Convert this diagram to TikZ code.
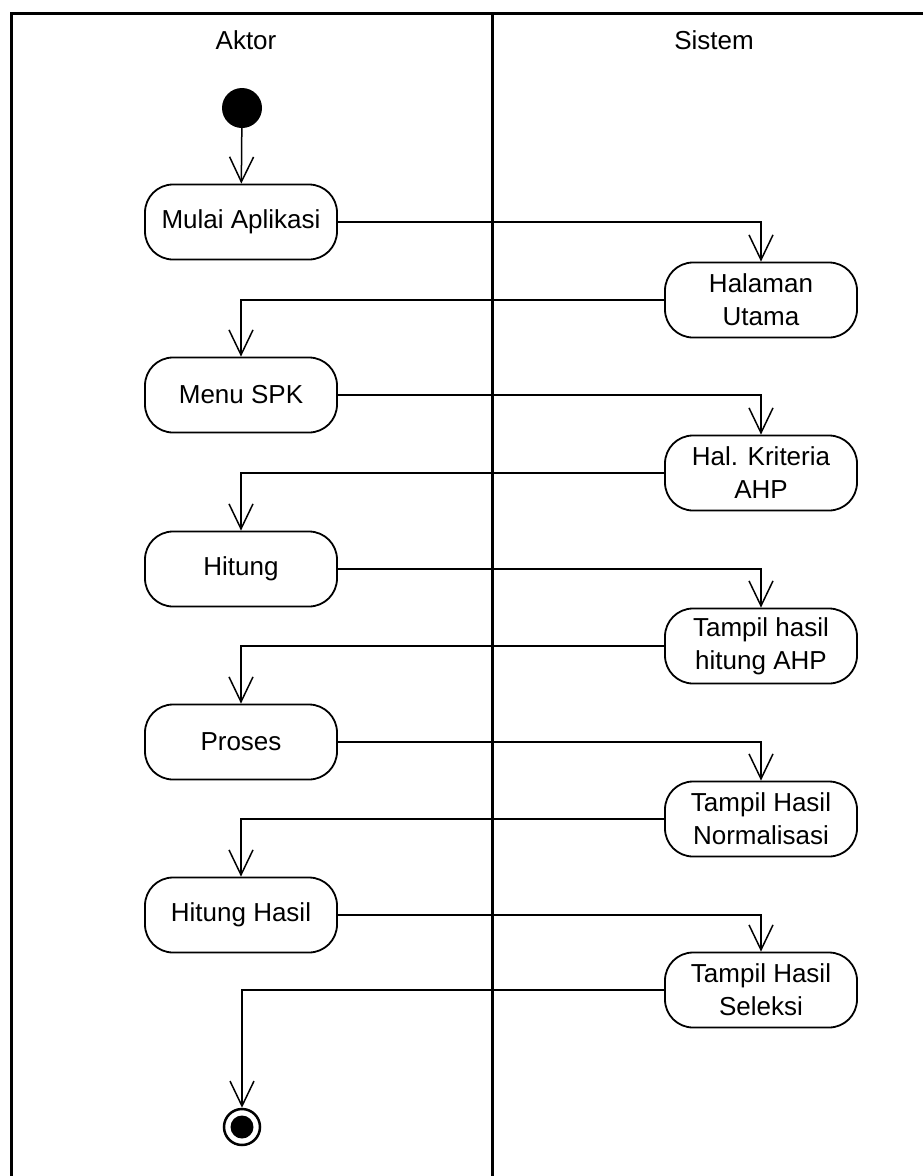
\documentclass[tikz,border=0pt]{standalone}
\usepackage{fontspec}
\setmainfont{Liberation Sans}
\usetikzlibrary{arrows.meta, positioning}

\begin{document}
\begin{tikzpicture}[x=1pt, y=-1pt,
    activity/.style={draw, line width=1.8pt, rounded corners=28pt,
      minimum width=192pt, minimum height=75pt, align=center,
      font=\fontsize{26}{33}\selectfont},
    flow/.style={line width=1.5pt, -{Straight Barb[length=25pt, width=24pt, line width=1.5pt]}},
    lane/.style={line width=3pt}]
  \useasboundingbox (0,0) rectangle (923,1176);

  % swimlanes
  \draw[lane] (11,1176) -- (11,13) -- (923,13);
  \draw[lane] (492,13) -- (492,1176);
  \node[font=\fontsize{26}{33}\selectfont] (aktor) at (246,40) {Aktor};
  \node[font=\fontsize{26}{33}\selectfont] (sistem) at (714,40) {Sistem};

  % start
  \node[circle, fill, minimum size=40pt, inner sep=0pt] (start) at (242,108) {};

  % aktor
  \node[activity] (mulai) at (241,222) {Mulai Aplikasi};
  \node[activity] (menu) at (241,395) {Menu SPK};
  \node[activity] (hitung) at (241,569) {Hitung};
  \node[activity] (proses) at (241,742) {Proses};
  \node[activity] (hitunghasil) at (241,915) {Hitung Hasil};

  % sistem
  \node[activity] (utama) at (761,300) {Halaman\\Utama};
  \node[activity] (kriteria) at (761,473) {Hal. Kriteria\\AHP};
  \node[activity] (hasilahp) at (761,646) {Tampil hasil\\hitung AHP};
  \node[activity] (normal) at (761,819) {Tampil Hasil\\Normalisasi};
  \node[activity] (seleksi) at (761,990) {Tampil Hasil\\Seleksi};

  % end
  \node[circle, draw, line width=2.5pt, minimum size=36pt, inner sep=0pt] (stop) at (242,1127) {};
  \fill (stop.center) circle (11.5pt);

  \draw[flow] (start) -- (mulai);
  \draw[flow] (mulai.east) -| (utama.north);
  \draw[flow] (utama.west) -| (menu.north);
  \draw[flow] (menu.east) -| (kriteria.north);
  \draw[flow] (kriteria.west) -| (hitung.north);
  \draw[flow] (hitung.east) -| (hasilahp.north);
  \draw[flow] (hasilahp.west) -| (proses.north);
  \draw[flow] (proses.east) -| (normal.north);
  \draw[flow] (normal.west) -| (hitunghasil.north);
  \draw[flow] (hitunghasil.east) -| (seleksi.north);
  \draw[flow] (seleksi.west) -| (stop.north);
\end{tikzpicture}
\end{document}
